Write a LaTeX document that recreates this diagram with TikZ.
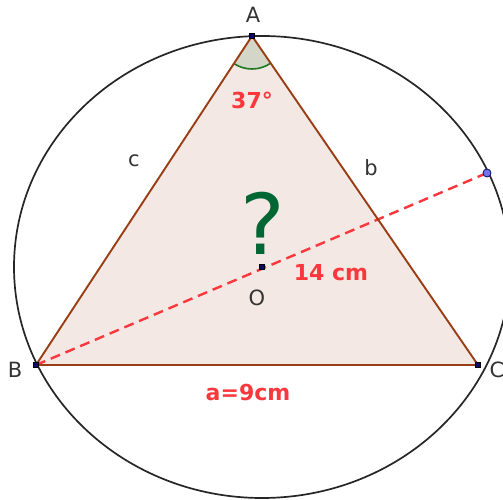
\documentclass[tikz,border=0pt]{standalone}
\usepackage{fontspec}
\setmainfont{DejaVu Sans}
\usetikzlibrary{angles}
\definecolor{edgebrown}{RGB}{153,62,20}
\definecolor{trifill}{RGB}{244,232,228}
\definecolor{anglefill}{RGB}{212,214,200}
\definecolor{arcgreen}{RGB}{30,120,30}
\definecolor{labelred}{RGB}{250,55,60}
\definecolor{qgreen}{RGB}{0,102,51}
\definecolor{ptblue}{RGB}{10,10,110}
\definecolor{diamblue}{RGB}{115,115,235}
\tikzset{
    vertex/.style={rectangle, fill=ptblue, draw=black, line width=0.6pt, inner sep=0pt, minimum size=4.5pt},
    freepoint/.style={circle, fill=diamblue, draw=ptblue, line width=0.8pt, inner sep=0pt, minimum size=8pt},
    side/.style={draw=edgebrown, line width=1.9pt, line join=round},
    diameter/.style={draw=labelred, line width=2.4pt, dash pattern=on 10pt off 6pt},
    ptlabel/.style={font=\fontsize{21}{23}\selectfont, text=black!80},
    measure/.style={font=\fontsize{22}{24}\selectfont\bfseries, text=labelred}
}

\begin{document}
\begin{tikzpicture}[x=1pt, y=1pt]
\useasboundingbox (0,0) rectangle (503,500);

% Triangle corners and circumcentre
\coordinate (A) at (252,464);
\coordinate (B) at (36,135);
\coordinate (C) at (478,135);
\coordinate (O) at (262,233);
\coordinate (D) at (487,327);

% Triangle area and angle at A
\fill[trifill] (A) -- (B) -- (C) -- cycle;
\pic[fill=anglefill, draw=arcgreen, line width=1.6pt, angle radius=33pt] {angle=B--A--C};

% Diameter through O
\draw[diameter] (B) -- (D);

% Sides
\draw[side] (A) -- (B) -- (C) -- cycle;

% Circumcircle
\draw[black!85, line width=1.7pt] (O) ellipse [x radius=248pt, y radius=231pt];

% Points
\node[vertex] (pA) at (A) {};
\node[vertex] (pB) at (B) {};
\node[vertex] (pC) at (C) {};
\node[vertex] (pO) at (O) {};
\node[freepoint] (pD) at (D) {};

% Labels
\node[ptlabel] (lblA) at (253,485) {A};
\node[ptlabel] (lblB) at (15,130) {B};
\node[ptlabel] (lblC) at (497,130) {C};
\node[ptlabel] (lblO) at (257,202) {O};
\node[ptlabel] (lblc) at (134,339) {c};
\node[ptlabel] (lblb) at (371,332) {b};
\node[measure] (lblangle) at (252,400) {37°};
\node[measure] (lblradius) at (331,227) {14 cm};
\node[measure] (lbla) at (248,107) {a=9cm};
\node[font=\fontsize{84}{84}\selectfont, text=qgreen] (question) at (263,277) {?};

\end{tikzpicture}
\end{document}
